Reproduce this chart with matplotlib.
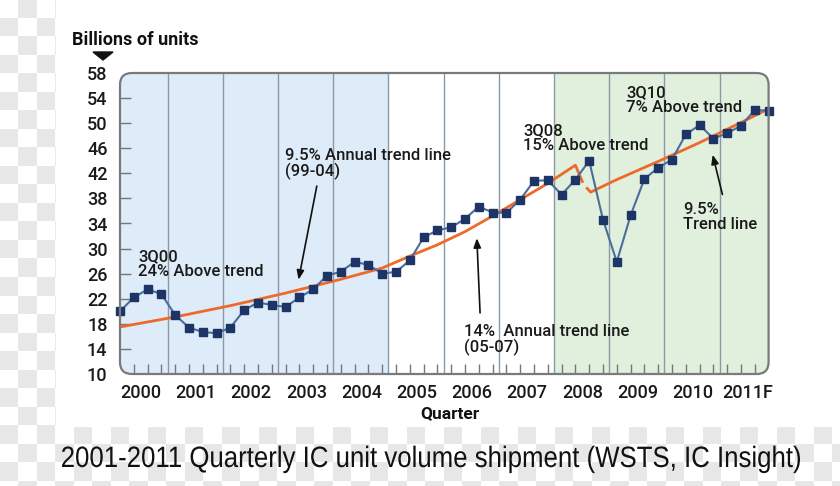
import numpy as np
import matplotlib
matplotlib.use('Agg')
import matplotlib.pyplot as plt
from matplotlib.patches import FancyBboxPatch, Rectangle, Polygon, PathPatch
from matplotlib.colors import ListedColormap
from matplotlib.textpath import TextPath
from matplotlib.font_manager import FontProperties
from matplotlib.transforms import Affine2D

plt.rcParams['font.family'] = ['Roboto', 'DejaVu Sans']

# quarterly IC unit shipments, 2000Q1 .. 2011Q4 (billions of units)
years = ['2000', '2001', '2002', '2003', '2004', '2005', '2006',
         '2007', '2008', '2009', '2010', '2011F']
units = [20.0, 22.2, 23.5, 22.75, 19.4, 17.4, 16.7, 16.5, 17.4, 20.2, 21.4, 21.0,
         20.7, 22.2, 23.5, 25.7, 26.3, 27.9, 27.4, 26.0, 26.3, 28.1, 31.8, 32.9,
         33.4, 34.75, 36.7, 35.75, 35.7, 37.8, 40.8, 40.9, 38.6, 41.0, 44.0, 34.6,
         27.9, 35.3, 41.1, 42.9, 44.2, 48.2, 49.7, 47.55, 48.4, 49.6, 52.1, 52.0]

# trend lines (quarter index, value)
trend1_q = [0, 4, 8, 12, 16, 19, 21, 23, 25, 27, 29, 31, 33, 33.5]
trend1_v = [17.5, 19.1, 20.9, 22.9, 25.1, 26.9, 28.8, 30.6, 32.7, 35.2, 37.8, 40.4, 43.3, 40.7]
trend2_q = [33.85, 34.1, 36, 39, 42, 45, 47]
trend2_v = [39.6, 39.0, 41.0, 43.9, 46.9, 50.1, 52.3]

yticks = list(range(10, 59, 4))
caption = '2001-2011 Quarterly IC unit volume shipment (WSTS, IC Insight)'

fig = plt.figure(figsize=(8.4, 4.86), dpi=100)

# background checker (pixel coords)
bg = fig.add_axes([0, 0, 1, 1], zorder=-10)
sq = 18.5
nr, nc = 27, 46
checker = (np.add.outer(np.arange(nr), np.arange(nc)) % 2)
bg.imshow(checker, cmap=ListedColormap(['white', '#e7e7e7']),
          extent=(0, nc * sq, nr * sq, 0), interpolation='nearest', aspect='auto')
bg.add_patch(Rectangle((3 * sq, 0), 840, 23 * sq, color='white'))
bg.set_xlim(0, 840)
bg.set_ylim(486, 0)
bg.axis('off')

bg.text(72, 40, 'Billions of units', fontsize=13, fontweight='bold', va='center', color='#111')
bg.add_patch(Polygon([[93, 52], [113, 52], [103, 60]], color='#111'))
bg.text(450, 414, 'Quarter', fontsize=12.5, fontweight='bold', ha='center', va='center', color='#111')

# caption, drawn as a slightly condensed text path
tp = TextPath((0, 0), caption, size=1, prop=FontProperties(family='Liberation Sans'))
ext = tp.get_extents()
sx = 738 / ext.width
sy = 29.5
cap_t = Affine2D().translate(-ext.x0, 0).scale(sx, -sy).translate(62, 467)
bg.add_patch(PathPatch(cap_t.transform_path(tp), facecolor='#111', edgecolor='none'))

ax = fig.add_axes([120 / 840, 112 / 486, 648.6 / 840, 301 / 486])
ax.patch.set_visible(False)
for s in ax.spines.values():
    s.set_visible(False)

n = len(units)
q = np.arange(n)
ax.set_xlim(0, n - 1)
ax.set_ylim(10, 58)

box = FancyBboxPatch((0, 0), 1, 1, boxstyle='round,pad=0,rounding_size=0.0185',
                     mutation_aspect=648.6 / 301, transform=ax.transAxes,
                     facecolor='white', edgecolor='none', zorder=0)
ax.add_patch(box)

bounds = [3.45 + 4 * k for k in range(len(years) - 1)]
sp1 = ax.axvspan(0, bounds[4], color='#deebf8', zorder=0.5, lw=0)
sp2 = ax.axvspan(bounds[7], n - 1, color='#e1efdd', zorder=0.5, lw=0)
sp1.set_clip_path(box)
sp2.set_clip_path(box)
for b in bounds:
    ax.axvline(b, color='#8c99a6', lw=1, zorder=1)

edge = FancyBboxPatch((0, 0), 1, 1, boxstyle='round,pad=0,rounding_size=0.0185',
                      mutation_aspect=648.6 / 301, transform=ax.transAxes,
                      facecolor='none', edgecolor='#7a7a7a', lw=1.6, zorder=5, clip_on=False)
ax.add_patch(edge)

ax.plot(trend1_q, trend1_v, color='#ee6a2a', lw=2, zorder=3)
ax.plot(trend2_q, trend2_v, color='#ee6a2a', lw=2, zorder=3)
ax.plot(q, units, color='#4b6d9a', lw=1.5, marker='s', markersize=6,
        markerfacecolor='#1c3466', markeredgecolor='#1c3466', zorder=4, clip_on=False)

# axes ticks
ax.set_yticks(yticks)
ax.set_yticklabels([str(v) for v in yticks], fontweight='medium')
ax.tick_params(axis='y', direction='in', length=8, width=1, color='#777',
               labelsize=13, pad=9, labelcolor='#1a1a1a')
for t in (ax.yaxis.get_major_ticks()[0], ax.yaxis.get_major_ticks()[-1]):
    t.tick1line.set_visible(False)

ax.set_xticks(q[1:-1])
ax.set_xticklabels([])
ax.tick_params(axis='x', which='major', direction='in', length=7, width=1, color='#777')
ax.set_xticks([1.5 + 4 * k for k in range(len(years))], minor=True)
ax.set_xticklabels(years, minor=True, fontweight='medium')
ax.tick_params(axis='x', which='minor', length=0, labelsize=13, pad=7, labelcolor='#1a1a1a')

tk = dict(fontsize=12, fontweight='medium', color='#1a1a1a', va='top', linespacing=1.0, zorder=6)
arr = dict(arrowstyle='-|>,head_length=0.55,head_width=0.22', color='#111', lw=1.2)

ax.text(1.3, 29.9, '3Q00\n24% Above trend', **tk)
ax.text(11.96, 46.0, '9.5% Annual trend line\n(99-04)', **tk)
ax.annotate('', xy=(12.9, 24.6), xytext=(14.3, 40.4), arrowprops=arr, zorder=6)
ax.text(24.9, 18.0, '14%  Annual trend line\n(05-07)', **tk)
ax.annotate('', xy=(25.85, 32.1), xytext=(26.1, 19.3), arrowprops=arr, zorder=6)
ax.text(29.2, 50.0, '3Q08\n15% Above trend', **tk)
ax.text(36.7, 56.1, '3Q10\n7% Above trend', **tk)
ax.text(40.8, 37.4, '9.5%\nTrend line', **tk)
ax.annotate('', xy=(42.9, 45.4), xytext=(43.7, 38.2), arrowprops=arr, zorder=6)

fig.savefig('out.png', dpi=100)
